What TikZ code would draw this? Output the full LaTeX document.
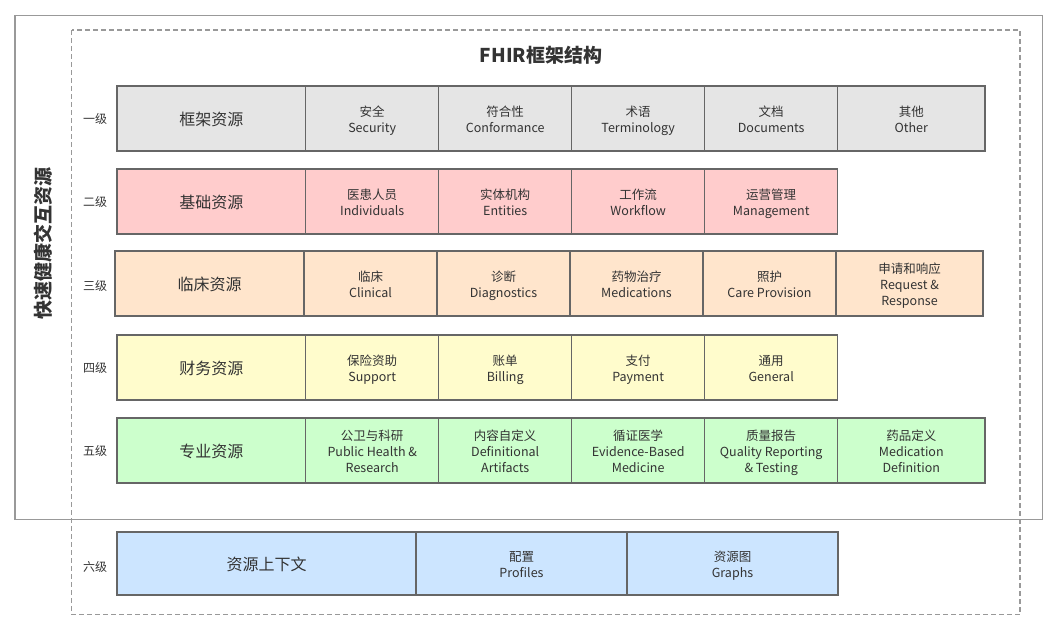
\documentclass[tikz,border=0pt]{standalone}
\usepackage{fontspec}
\setmainfont{Noto Sans CJK SC}
\newcommand\ct{\rule{0pt}{17pt}}
\newcommand\cb{\strut}
\begin{document}
\begin{tikzpicture}[x=1pt,y=-1pt,
  cell/.style={draw=black!60, line width=1.2pt, inner sep=0pt, align=center,
     font=\fontsize{12.5}{16}\selectfont, text=black!80},
  main/.style={cell, font=\fontsize{16}{19}\selectfont,
     execute at begin node={\rule{0pt}{19.5pt}}, execute at end node=\strut},
  lvl/.style={font=\fontsize{12}{14}\selectfont, text=black!80},
  gr/.style={fill=gray!20},
  pk/.style={fill=red!20},
  og/.style={fill=orange!20},
  yl/.style={fill=yellow!20},
  gn/.style={fill=green!20},
  r1/.style={minimum height=65pt},
  wA/.style={minimum width=188.7pt},
  wB/.style={minimum width=133pt},
  wC/.style={minimum width=147.3pt},
  frame/.style={draw=black!40, line width=1.4pt}
]
\useasboundingbox (0,0) rectangle (1048,622);
\definecolor{c6}{RGB}{204,229,255}
% frames
\draw[frame] (15,15.7) rectangle (1042.7,519.7);
\draw[frame, dash pattern=on 5pt off 3pt, line width=1.2pt] (71.7,30) rectangle (1020,614.7);
\node[font=\fontsize{19}{22}\selectfont\bfseries, text=black!80] (title) at (541,55) {FHIR框架结构};
\node[font=\fontsize{19}{22}\selectfont\bfseries, text=black!80, rotate=90] (side) at (43,243) {快速健康交互资源};

% row 1
\node[lvl] (l1) at (95,119) {一级};
\node[main,gr,r1,wA] (a0) at (211.3,118.5) {框架资源};
\node[cell,gr,r1,wB] (a1) at (372.2,118.5) {\ct 安全\\Security\cb};
\node[cell,gr,r1,wB] (a2) at (505.2,118.5) {\ct 符合性\\Conformance\cb};
\node[cell,gr,r1,wB] (a3) at (638.2,118.5) {\ct 术语\\Terminology\cb};
\node[cell,gr,r1,wB] (a4) at (771.2,118.5) {\ct 文档\\Documents\cb};
\node[cell,gr,r1,wC] (a5) at (911.3,118.5) {\ct 其他\\Other\cb};

% row 2
\node[lvl] (l2) at (95,202) {二级};
\node[main,pk,r1,wA] (b0) at (211.3,201.5) {基础资源};
\node[cell,pk,r1,wB] (b1) at (372.2,201.5) {\ct 医患人员\\Individuals\cb};
\node[cell,pk,r1,wB] (b2) at (505.2,201.5) {\ct 实体机构\\Entities\cb};
\node[cell,pk,r1,wB] (b3) at (638.2,201.5) {\ct 工作流\\Workflow\cb};
\node[cell,pk,r1,wB] (b4) at (771.2,201.5) {\ct 运营管理\\Management\cb};

% row 3
\node[lvl] (l3) at (95,286) {三级};
\node[main,og,r1,minimum width=189pt] (c0) at (209.5,283.5) {临床资源};
\node[cell,og,r1,wB] (c1) at (370.5,283.5) {\ct 临床\\Clinical\cb};
\node[cell,og,r1,wB] (c2) at (503.5,283.5) {\ct 诊断\\Diagnostics\cb};
\node[cell,og,r1,wB] (c3) at (636.5,283.5) {\ct 药物治疗\\Medications\cb};
\node[cell,og,r1,wB] (c4) at (769.5,283.5) {\ct 照护\\Care Provision\cb};
\node[cell,og,r1,minimum width=147pt] (c5) at (909.5,283.5) {\ct 申请和响应\\Request \&\\Response\cb};

% row 4
\node[lvl] (l4) at (95,368) {四级};
\node[main,yl,r1,wA] (d0) at (211.3,367.5) {财务资源};
\node[cell,yl,r1,wB] (d1) at (372.2,367.5) {\ct 保险资助\\Support\cb};
\node[cell,yl,r1,wB] (d2) at (505.2,367.5) {\ct 账单\\Billing\cb};
\node[cell,yl,r1,wB] (d3) at (638.2,367.5) {\ct 支付\\Payment\cb};
\node[cell,yl,r1,wB] (d4) at (771.2,367.5) {\ct 通用\\General\cb};

% row 5
\node[lvl] (l5) at (95,451) {五级};
\node[main,gn,r1,wA] (e0) at (211.3,450.5) {专业资源};
\node[cell,gn,r1,wB] (e1) at (372.2,450.5) {\ct 公卫与科研\\Public Health \&\\Research\cb};
\node[cell,gn,r1,wB] (e2) at (505.2,450.5) {\ct 内容自定义\\Definitional\\Artifacts\cb};
\node[cell,gn,r1,wB] (e3) at (638.2,450.5) {\ct 循证医学\\Evidence-Based\\Medicine\cb};
\node[cell,gn,r1,wB] (e4) at (771.2,450.5) {\ct 质量报告\\Quality Reporting\\\& Testing\cb};
\node[cell,gn,r1,wC] (e5) at (911.3,450.5) {\ct 药品定义\\Medication\\Definition\cb};

% row 6
\node[lvl] (l6) at (95,567) {六级};
\node[main,fill=c6,minimum height=63pt,minimum width=299pt] (f0) at (266.5,563.5) {资源上下文};
\node[cell,fill=c6,minimum height=63pt,minimum width=211pt] (f1) at (521.5,563.5) {\ct 配置\\Profiles\cb};
\node[cell,fill=c6,minimum height=63pt,minimum width=211pt] (f2) at (732.5,563.5) {\ct 资源图\\Graphs\cb};
\end{tikzpicture}
\end{document}
